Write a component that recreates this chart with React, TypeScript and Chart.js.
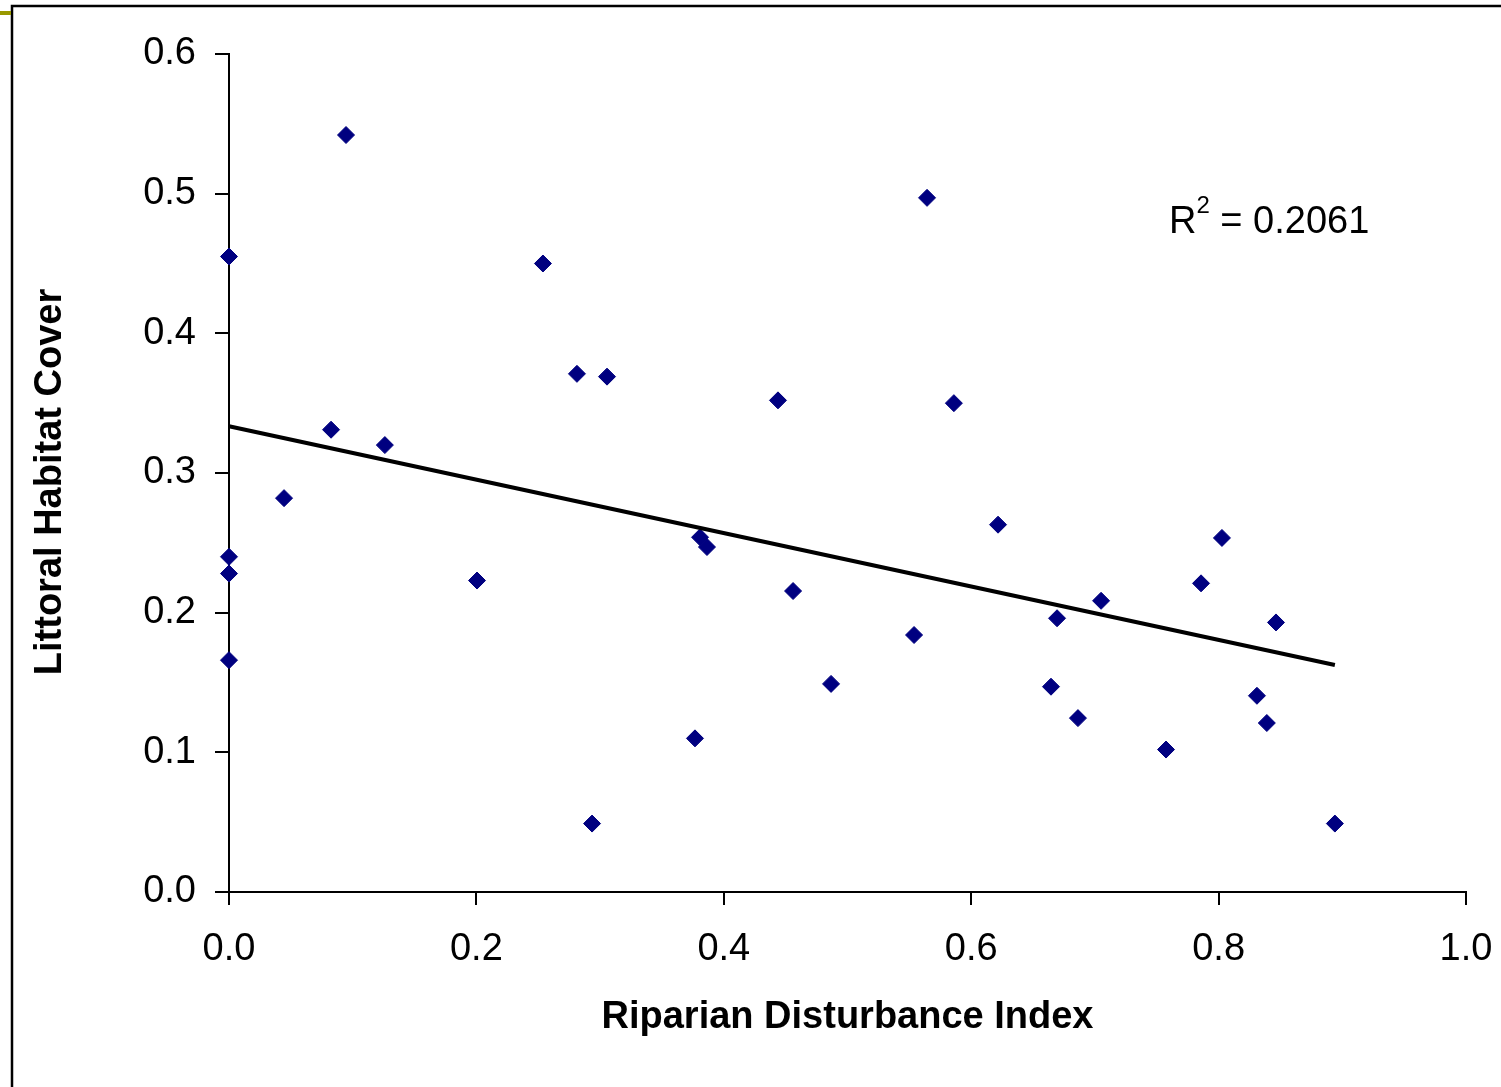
import React, { useEffect, useRef } from "react";
import { Chart, registerables } from "chart.js";

Chart.register(...registerables);

const disturbanceX: number[] = [
  0.0, 0.0, 0.0, 0.0, 0.0445, 0.0825, 0.0946, 0.126, 0.2005, 0.2538, 0.2813, 0.3056,
  0.2935, 0.3767, 0.3808, 0.3864, 0.4438, 0.456, 0.4867, 0.5538, 0.5643, 0.586,
  0.6217, 0.6645, 0.6694, 0.6863, 0.705, 0.7575, 0.7858, 0.8027, 0.831, 0.839,
  0.8464, 0.894,
];
const habitatY: number[] = [
  0.455, 0.24, 0.228, 0.166, 0.282, 0.331, 0.542, 0.32, 0.223, 0.45, 0.371, 0.369,
  0.049, 0.11, 0.254, 0.247, 0.352, 0.2155, 0.149, 0.184, 0.497, 0.35,
  0.263, 0.147, 0.196, 0.1245, 0.2085, 0.102, 0.221, 0.2535, 0.1405, 0.121,
  0.193, 0.049,
];
const trendX: number[] = [0, 0.894];
const trendY: number[] = [0.3335, 0.1625];
const rSquaredText = "0.2061";
const xTitle = "Riparian Disturbance Index";
const yTitle = "Littoral Habitat Cover";

const FONT = "'Liberation Sans', Arial, sans-serif";

const framePlugin = {
  id: "frame",
  beforeDraw(chart: any) {
    const ctx = chart.ctx;
    ctx.save();
    ctx.fillStyle = "#ffffff";
    ctx.fillRect(0, 0, chart.width, chart.height);
    ctx.strokeStyle = "#000000";
    ctx.lineWidth = 2.5;
    ctx.beginPath();
    ctx.moveTo(12, chart.height + 5);
    ctx.lineTo(12, 6);
    ctx.lineTo(chart.width + 5, 6);
    ctx.stroke();
    ctx.fillStyle = "#999900";
    ctx.fillRect(0, 11, 11, 4);
    ctx.restore();
  },
  afterDraw(chart: any) {
    const ctx = chart.ctx;
    const area = chart.chartArea;
    ctx.save();
    ctx.fillStyle = "#000000";
    ctx.textBaseline = "alphabetic";
    ctx.textAlign = "left";
    ctx.font = `38px ${FONT}`;
    let x = 1169;
    const base = 233;
    ctx.fillText("R", x, base);
    x += ctx.measureText("R").width;
    ctx.font = `24px ${FONT}`;
    ctx.fillText("2", x, base - 20);
    x += ctx.measureText("2").width;
    ctx.font = `38px ${FONT}`;
    ctx.fillText(" = " + rSquaredText, x, base);

    // y axis title
    ctx.translate(51, (area.top + area.bottom) / 2 + 9);
    ctx.rotate(-Math.PI / 2);
    ctx.textAlign = "center";
    ctx.textBaseline = "middle";
    ctx.font = `bold 38px ${FONT}`;
    ctx.fillText(yTitle, 0, 0);
    ctx.restore();
  },
};

export default function App() {
  const ref = useRef<HTMLCanvasElement>(null);
  useEffect(() => {
    if (!ref.current) return;
    const points = disturbanceX.map((x, i) => ({ x, y: habitatY[i] }));
    const trend = trendX.map((x, i) => ({ x, y: trendY[i] }));
    const chart = new Chart(ref.current, {
      type: "scatter",
      data: {
        datasets: [
          {
            type: "line",
            label: "Trend",
            data: trend,
            borderColor: "#000000",
            borderWidth: 4,
            pointRadius: 0,
            showLine: true,
            fill: false,
            clip: false,
          } as any,
          {
            label: "Sites",
            data: points,
            pointStyle: "rectRot",
            pointRadius: 8.5,
            backgroundColor: "#000080",
            borderColor: "#000080",
            borderWidth: 1,
            clip: false,
          } as any,
        ],
      },
      options: {
        animation: false,
        responsive: false,
        devicePixelRatio: 1,
        layout: { padding: { left: 0, top: 54, right: 35, bottom: 0 } },
        plugins: {
          legend: { display: false },
          tooltip: { enabled: false },
        },
        scales: {
          x: {
            type: "linear",
            min: 0,
            max: 1,
            afterFit: (s: any) => {
              s.height = 195;
              s.paddingLeft = 0;
              s.paddingRight = 0;
            },
            ticks: {
              stepSize: 0.2,
              color: "#000000",
              font: { family: FONT, size: 38 },
              padding: 22,
              callback: (v: any) => Number(v).toFixed(1),
            },
            grid: {
              display: true,
              drawOnChartArea: false,
              drawTicks: true,
              tickLength: 13,
              color: "#000000",
              lineWidth: 2,
            },
            border: { display: true, color: "#000000", width: 2 },
            title: {
              display: true,
              text: xTitle,
              color: "#000000",
              font: { family: FONT, size: 38, weight: "bold" },
              padding: { top: 47, bottom: 47 },
            },
          },
          y: {
            type: "linear",
            min: 0,
            max: 0.6,
            afterFit: (s: any) => {
              s.width = 229;
              s.paddingTop = 0;
              s.paddingBottom = 0;
            },
            ticks: {
              stepSize: 0.1,
              color: "#000000",
              font: { family: FONT, size: 38 },
              padding: 19,
              callback: (v: any) => Number(v).toFixed(1),
            },
            grid: {
              display: true,
              drawOnChartArea: false,
              drawTicks: true,
              tickLength: 14,
              color: "#000000",
              lineWidth: 2,
            },
            border: { display: true, color: "#000000", width: 2 },
            title: { display: false },
          },
        },
      } as any,
      plugins: [framePlugin],
    });
    return () => chart.destroy();
  }, []);
  return (
    <div style={{ position: "fixed", left: 0, top: 0, width: 1501, height: 1087, background: "#fff" }}>
      <canvas ref={ref} width={1501} height={1087} style={{ width: 1501, height: 1087, display: "block" }} />
    </div>
  );
}
